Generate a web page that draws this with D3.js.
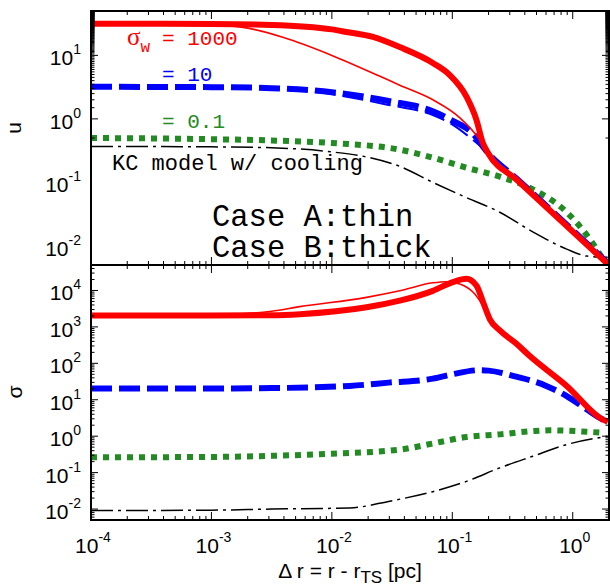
<!DOCTYPE html>
<html><head><meta charset="utf-8">
<script src="https://cdn.jsdelivr.net/npm/d3@7"></script>
<style>body{margin:0;background:#fff}svg{display:block}</style>
</head><body>
<svg id="c" width="610" height="587"></svg>
<script>
// ---------- data (x in pc) ----------
const xTickVals = [1e-4, 1e-3, 1e-2, 1e-1, 1];
const xTickExp = ["-4", "-3", "-2", "-1", "0"];
const uTickVals = [10, 1, 0.1, 0.01];
const uTickExp = ["1", "0", "-1", "-2"];
const sTickVals = [1e4, 1e3, 1e2, 10, 1, 0.1, 0.01];
const sTickExp = ["4", "3", "2", "1", "0", "-1", "-2"];

// top panel: u
const uRedB_x = [1e-4, 1e-3, 3.16e-3, 0.01, 0.0132, 0.0219, 0.0366, 0.0689, 0.0953, 0.131, 0.159, 0.179, 0.198, 0.341, 1.95];
const uRedB_y = [31.6, 31.3, 30.2, 25.7, 23.4, 19.5, 13.5, 7.6, 4.9, 2.24, 0.95, 0.42, 0.29, 0.111, 0.0052];
const uRedA_x = [1e-4, 1e-3, 2.0e-3, 3.98e-3, 0.01, 0.0251, 0.0366, 0.0689, 0.115, 0.169, 0.198, 0.341, 1.95];
const uRedA_y = [31.6, 30.2, 26.9, 19.1, 10.0, 4.68, 3.39, 2.0, 1.05, 0.47, 0.29, 0.111, 0.0052];
const uBlueB_x = [1e-4, 1e-3, 3.16e-3, 0.01, 0.0295, 0.0689, 0.101, 0.148, 0.195, 0.341, 1.95];
const uBlueB_y = [3.2, 3.16, 3.05, 2.63, 1.91, 1.32, 0.93, 0.59, 0.30, 0.115, 0.0054];
const uBlueA_x = [1e-4, 3.16e-3, 6.31e-3, 0.0295, 0.0689, 0.101, 0.148, 0.2, 0.341, 1.95];
const uBlueA_y = [3.2, 3.02, 2.75, 1.66, 1.15, 0.805, 0.468, 0.288, 0.111, 0.0052];
const uGreen_x = [1e-4, 1e-3, 3.16e-3, 0.01, 0.0366, 0.0689, 0.131, 0.248, 0.466, 0.891, 1.38, 1.78, 1.95];
const uGreen_y = [0.50, 0.479, 0.457, 0.417, 0.327, 0.245, 0.17, 0.123, 0.0776, 0.0339, 0.0129, 0.0063, 0.005];
const uKC_x = [1e-4, 1e-3, 3.16e-3, 0.01, 0.0207, 0.0366, 0.0689, 0.131, 0.248, 0.466, 0.891, 1.31, 1.95];
const uKC_y = [0.369, 0.363, 0.351, 0.302, 0.245, 0.179, 0.10, 0.0575, 0.0339, 0.0166, 0.0089, 0.0069, 0.0066];

// bottom panel: sigma
const sRedB_x = [1e-4, 1e-3, 3.16e-3, 5.42e-3, 0.0194, 0.0366, 0.0689, 0.101, 0.131, 0.159, 0.180, 0.205, 0.248, 0.341, 0.44, 0.891, 1.77, 1.95];
const sRedB_y = [2040, 2040, 2090, 2240, 3470, 5250, 9770, 17000, 20900, 13500, 4790, 1620, 800, 345, 158, 24, 2.88, 2.5];
const sRedA_x = [1e-4, 1e-3, 3.16e-3, 5.42e-3, 0.0194, 0.0366, 0.0689, 0.0891, 0.115, 0.149, 0.180, 0.205, 0.248, 0.341, 0.44, 0.891, 1.77, 1.95];
const sRedA_y = [2040, 2140, 2700, 3600, 6460, 9770, 16200, 17400, 15100, 8910, 3800, 1780, 800, 345, 158, 24, 2.88, 2.5];
const sBlue_x = [1e-4, 1e-3, 3.16e-3, 0.0141, 0.0295, 0.0689, 0.1, 0.166, 0.2, 0.324, 0.603, 0.891, 1.31, 1.77, 1.95];
const sBlue_y = [20.4, 20.4, 20.9, 24, 29.5, 38, 50, 64.6, 63, 44.7, 24, 12.6, 5.43, 2.88, 2.5];
const sGreen_x = [1e-4, 1e-3, 3.16e-3, 0.01, 0.0366, 0.0689, 0.131, 0.248, 0.466, 0.646, 0.891, 1.67];
const sGreen_y = [0.263, 0.269, 0.288, 0.331, 0.427, 0.63, 0.95, 1.12, 1.38, 1.45, 1.41, 1.26];
const sKC_x = [1e-4, 1e-3, 3.16e-3, 0.0141, 0.0295, 0.0689, 0.131, 0.248, 0.466, 0.891, 1.95];
const sKC_y = [0.0091, 0.0093, 0.010, 0.0107, 0.0162, 0.030, 0.0575, 0.135, 0.282, 0.589, 1.0];

// ---------- layout ----------
const L = 91, R = 609, T1 = 11, B1 = 265, T2 = 265, B2 = 520;
const svg = d3.select("#c");
const x = d3.scaleLog().domain([1e-4, 2]).range([L, R]);
const yU = d3.scaleLog().domain([0.005, 50]).range([B1, T1]);
const yS = d3.scaleLog().domain([0.005, 5e4]).range([B2, T2]);

const defs = svg.append("defs");
defs.append("clipPath").attr("id", "clip1").append("rect").attr("x", L).attr("y", T1).attr("width", R - L).attr("height", B1 - T1);
defs.append("clipPath").attr("id", "clip2").append("rect").attr("x", L).attr("y", T2).attr("width", R - L).attr("height", B2 - T2);

const zip = (xs, ys) => xs.map((v, i) => [v, ys[i]]);

function drawLine(g, y, xs, ys, color, width, dash) {
  const line = d3.line().x(d => x(d[0])).y(d => y(d[1])).curve(d3.curveMonotoneX);
  g.append("path").datum(zip(xs, ys))
    .attr("d", line).attr("fill", "none").attr("stroke", color)
    .attr("stroke-width", width).attr("stroke-dasharray", dash || null)
    .attr("stroke-linejoin", "round");
}

const red = "#ff0000", blue = "#0000ff", green = "#228b22";
const dashB = "21,7", dotG = "6,6", dashDot = "22,5,3,5";

const g1 = svg.append("g").attr("clip-path", "url(#clip1)");
drawLine(g1, yU, uKC_x, uKC_y, "#000", 1.5, dashDot);
drawLine(g1, yU, uGreen_x, uGreen_y, green, 6, dotG);
drawLine(g1, yU, uBlueB_x, uBlueB_y, blue, 6, dashB);
drawLine(g1, yU, uBlueA_x, uBlueA_y, blue, 2, dashB);
drawLine(g1, yU, uRedA_x, uRedA_y, red, 1.6);
drawLine(g1, yU, uRedB_x, uRedB_y, red, 6);

const g2 = svg.append("g").attr("clip-path", "url(#clip2)");
drawLine(g2, yS, sKC_x, sKC_y, "#000", 1.5, dashDot);
drawLine(g2, yS, sGreen_x, sGreen_y, green, 6, dotG);
drawLine(g2, yS, sBlue_x, sBlue_y, blue, 6, dashB);
drawLine(g2, yS, sRedA_x, sRedA_y, red, 1.6);
drawLine(g2, yS, sRedB_x, sRedB_y, red, 6);

// ---------- ticks ----------
const tickG = svg.append("g").attr("stroke", "#000").attr("stroke-width", 1);
const isMajor = v => Math.abs(Math.log10(v) - Math.round(Math.log10(v))) < 1e-6;
const xAll = x.ticks(40).filter(v => v >= 1e-4 && v <= 2);
function xTicksAt(yPos, dir) {
  xAll.forEach(v => {
    const len = isMajor(v) ? 8 : 4;
    tickG.append("line").attr("x1", x(v)).attr("x2", x(v)).attr("y1", yPos).attr("y2", yPos + dir * len);
  });
}
xTicksAt(T1, 1); xTicksAt(B1, -1); xTicksAt(T2, 1); xTicksAt(B2, -1);
function yTicks(scale, lo, hi) {
  scale.ticks(80).filter(v => v >= lo && v <= hi).forEach(v => {
    const len = isMajor(v) ? 7 : 3.5;
    tickG.append("line").attr("x1", L).attr("x2", L + len).attr("y1", scale(v)).attr("y2", scale(v));
    tickG.append("line").attr("x1", R).attr("x2", R - len).attr("y1", scale(v)).attr("y2", scale(v));
  });
}
yTicks(yU, 0.005, 50); yTicks(yS, 0.005, 5e4);

// frames
svg.append("rect").attr("x", L).attr("y", T1).attr("width", R - L).attr("height", B2 - T1)
  .attr("fill", "none").attr("stroke", "#000").attr("stroke-width", 2);
svg.append("line").attr("x1", L).attr("x2", R).attr("y1", B1).attr("y2", B1).attr("stroke", "#000").attr("stroke-width", 2);

// ---------- tick labels ----------
const sans = "'Liberation Sans', Arial, sans-serif";
function powLabel(xp, yp, exp, anchor) {
  const t = svg.append("text").attr("x", xp).attr("y", yp).attr("text-anchor", anchor)
    .attr("font-family", sans).attr("font-size", 21).attr("fill", "#000");
  t.append("tspan").text("10");
  t.append("tspan").attr("font-size", 14).attr("dy", -11).text(exp);
}
uTickVals.forEach((v, i) => powLabel(81, yU(v) + 10, uTickExp[i], "end"));
sTickVals.forEach((v, i) => powLabel(81, yS(v) + 10, sTickExp[i], "end"));
xTickVals.forEach((v, i) => powLabel(x(v) + 2, 553, xTickExp[i], "middle"));

// axis titles
svg.append("text").attr("transform", "translate(21,128) rotate(-90)").attr("text-anchor", "middle")
  .attr("font-family", sans).attr("font-size", 21).text("u");
svg.append("text").attr("transform", "translate(22,392) rotate(-90)").attr("text-anchor", "middle")
  .attr("font-family", sans).attr("font-size", 21).text("σ");
const xt = svg.append("text").attr("x", 350).attr("y", 578).attr("text-anchor", "middle")
  .attr("font-family", sans).attr("font-size", 21);
xt.append("tspan").text("Δ r = r - r");
xt.append("tspan").attr("font-size", 17).attr("dy", 5).text("TS");
xt.append("tspan").attr("dy", -5).text(" [pc]");

// ---------- annotations ----------
const mono = "'Liberation Mono', 'Courier New', monospace";
const s1 = svg.append("text").attr("x", 127).attr("y", 45).attr("fill", red).attr("font-family", mono).attr("font-size", 21);
s1.append("tspan").attr("font-family", "'Liberation Serif', serif").attr("font-size", 25).text("σ");
s1.append("tspan").attr("font-size", 16).attr("dy", 7).text("w");
svg.append("text").attr("x", 162).attr("y", 45).attr("fill", red).attr("font-family", mono).attr("font-size", 21).attr("xml:space", "preserve").text("= 1000");
svg.append("text").attr("x", 162).attr("y", 81).attr("fill", blue).attr("font-family", mono).attr("font-size", 21).attr("xml:space", "preserve").text("= 10");
svg.append("text").attr("x", 162).attr("y", 128).attr("fill", green).attr("font-family", mono).attr("font-size", 21).attr("xml:space", "preserve").text("= 0.1");
svg.append("text").attr("x", 112).attr("y", 170).attr("fill", "#000").attr("font-family", mono).attr("font-size", 22).text("KC model w/ cooling");
svg.append("text").attr("x", 212).attr("y", 226).attr("fill", "#000").attr("font-family", mono).attr("font-size", 30.5).text("Case A:thin");
svg.append("text").attr("x", 212).attr("y", 257).attr("fill", "#000").attr("font-family", mono).attr("font-size", 30.5).text("Case B:thick");
</script>
</body></html>
